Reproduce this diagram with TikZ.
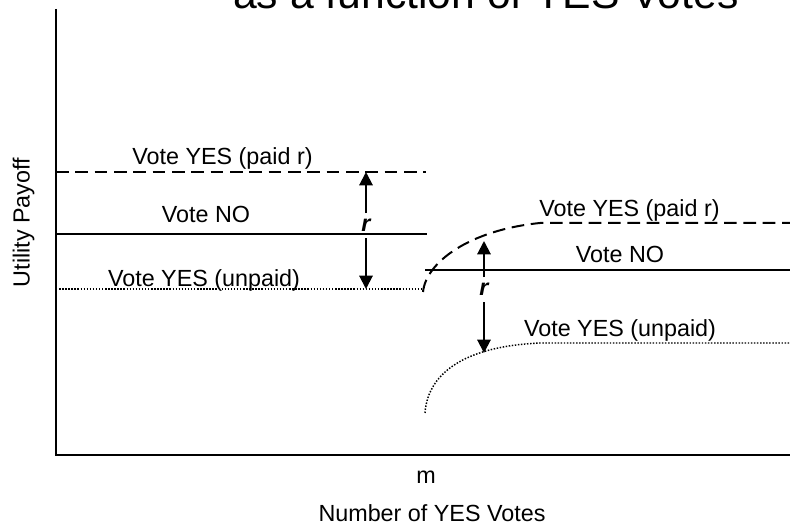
\documentclass[tikz,border=0pt]{standalone}
\usepackage{fontspec}
\setmainfont{Liberation Sans}
\usetikzlibrary{arrows.meta}
\tikzset{
  payoff chart/.style={
    x=0.75pt,
    y=-0.75pt,
    every node/.style={font=\fontsize{17.5}{21}\selectfont, inner sep=0pt},
  },
  axis line/.style={line width=1.6pt},
  no line/.style={line width=1.5pt},
  paid line/.style={line width=1.5pt, dash pattern=on 9.5pt off 5pt},
  unpaid line/.style={line width=1.1pt, dash pattern=on 1.1pt off 1.2pt},
  gap arrow/.style={line width=1.5pt, -{Triangle[length=10pt,width=10pt]}},
  gap label/.style={font=\fontsize{17.5}{21}\selectfont\bfseries\itshape, inner sep=4.5pt},
}

\begin{document}
\begin{tikzpicture}[
  payoff chart,
]

\clip (0,0) rectangle (790,527);
\useasboundingbox (0,0) rectangle (790,527);

\node [anchor=base west, font=\fontsize{32}{38}\selectfont] (title) at (233,8.3)
  {as a function of YES Votes};

% axes
\coordinate (origin) at (56,455);
\draw [axis line] (56,9) -- (origin) -- (790,455);
\node [anchor=base, rotate=90] (ylabel) at (29.7,222.5) {Utility Payoff};
\node [anchor=base] (mlabel) at (426,484) {m};
\node [anchor=base] (xlabel) at (432,522) {Number of YES Votes};

% below m
\draw [paid line] (56,172) -- (426,172);
\draw [no line] (56,234) -- (427,234);
\draw [unpaid line] (56,289) -- (423,289);
\node [anchor=base] (paidL) at (222.5,165) {Vote YES (paid r)};
\node [anchor=base] (noL) at (206,223) {Vote NO};
\node [anchor=base] (unpaidL) at (204,287) {Vote YES (unpaid)};

% above m
\draw [paid line] (423,292) .. controls (426,262) and (470,230) .. (540,223) -- (790,223);
\draw [no line] (425,270) -- (790,270);
\draw [unpaid line] (425,413) .. controls (428,370) and (470,346) .. (540,343) -- (790,343);
\node [anchor=base] (paidR) at (629.5,217) {Vote YES (paid r)};
\node [anchor=base] (noR) at (620,263) {Vote NO};
\node [anchor=base] (unpaidR) at (620,337) {Vote YES (unpaid)};

% the gap r
\coordinate (topL) at (366,172);
\coordinate (botL) at (366,289);
\coordinate (topR) at (484,241);
\coordinate (botR) at (484,353);
\node [gap label, anchor=base] (rL) at (366,232) {r};
\node [gap label, anchor=base] (rR) at (484,296) {r};
\draw [gap arrow] (rL) -- (topL);
\draw [gap arrow] (rL) -- (botL);
\draw [gap arrow] (rR) -- (topR);
\draw [gap arrow] (rR) -- (botR);

\end{tikzpicture}
\end{document}
